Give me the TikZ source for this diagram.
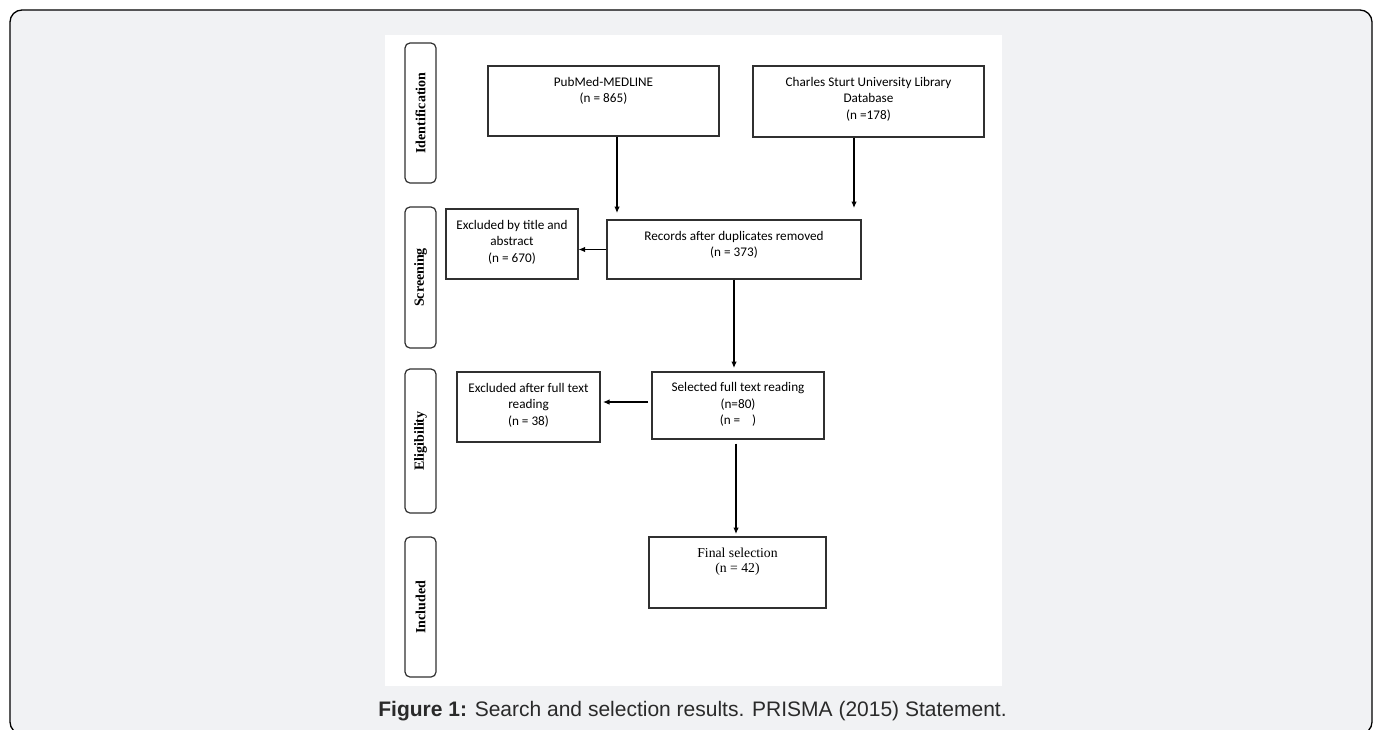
\documentclass[tikz,border=0pt]{standalone}
\usepackage{fontspec}
\setmainfont{Liberation Serif}
\newfontfamily\boxfont{Carlito}
\newfontfamily\capfont{Liberation Sans}
\usetikzlibrary{arrows.meta}
\definecolor{bggrey}{HTML}{F1F2F4}
\definecolor{linegrey}{HTML}{303030}
\definecolor{captext}{HTML}{2A2A2A}
\tikzset{
  flowbox/.style={draw=linegrey, line width=1.1pt, fill=white, rectangle, inner sep=0pt},
  stagebox/.style={draw=linegrey, line width=1.2pt, rounded corners=5pt, rectangle, inner sep=0pt, minimum width=31pt},
  stagetext/.style={rotate=90, font=\fontsize{14}{16}\selectfont\bfseries, inner sep=0pt},
  boxtext/.style={anchor=north, align=center, inner sep=0pt, font=\boxfont\fontsize{13.2}{16.5}\selectfont},
  arr/.style={draw=black, line width=1.1pt, -{Latex[length=6.5pt,width=5.5pt]}}
}
\begin{document}
\begin{tikzpicture}[x=1pt,y=-1pt]
\useasboundingbox (0,0) rectangle (1373,729);
\begin{scope}
\clip (0,0) rectangle (1373,729);
\draw[fill=bggrey, draw=black, line width=1.3pt, rounded corners=12pt] (10,10) rectangle (1372,734);
\end{scope}
\fill[white] (385,35) rectangle (1002,686);

% stage labels
\node[stagebox, minimum height=140pt] (sid) at (420.5,113) {};
\node[stagetext] (tid) at (sid.center) {Identification};
\node[stagebox, minimum height=141pt] (ssc) at (420.5,277.5) {};
\node[stagetext] (tsc) at (ssc.center) {Screening};
\node[stagebox, minimum height=144pt] (sel0) at (420.5,441) {};
\node[stagetext] (tel) at (sel0.center) {Eligibility};
\node[stagebox, minimum height=140pt] (sin) at (420.5,607) {};
\node[stagetext] (tin) at (sin.center) {Included};

% flow boxes
\node[flowbox, minimum width=231pt, minimum height=70pt] (pub) at (603.5,101) {};
\node[boxtext] (tpub) at ([yshift=-11.5pt]pub.north) {PubMed-MEDLINE\\(n = 865)};
\node[flowbox, minimum width=231pt, minimum height=71pt] (csu) at (868.5,101.5) {};
\node[boxtext] (tcsu) at ([yshift=-11.5pt]csu.north) {Charles Sturt University Library\\Database\\(n =178)};
\node[flowbox, minimum width=254pt, minimum height=59pt] (rec) at (734,249.5) {};
\node[boxtext] (trec) at ([yshift=-11.5pt]rec.north) {Records after duplicates removed\\(n = 373)};
\node[flowbox, minimum width=132pt, minimum height=70pt] (ex1) at (512,244) {};
\node[boxtext] (tex1) at ([yshift=-11.5pt]ex1.north) {Excluded by title and\\abstract\\(n = 670)};
\node[flowbox, minimum width=172pt, minimum height=67pt] (sel) at (738,405.5) {};
\node[boxtext] (tsel) at ([yshift=-11pt]sel.north) {Selected full text reading\\(n=80)\\(n =\ \ \ \ )};
\node[flowbox, minimum width=143pt, minimum height=70pt] (ex2) at (528.5,407) {};
\node[boxtext] (tex2) at ([yshift=-11.5pt]ex2.north) {Excluded after full text\\reading\\(n = 38)};
\node[flowbox, minimum width=177pt, minimum height=71pt] (fin) at (737.5,572.5) {};
\node[boxtext, font=\fontsize{13.7}{15.5}\selectfont] (tfin) at ([yshift=-11pt]fin.north) {Final selection\\(n = 42)};

% arrow end points
\coordinate (a1) at (617,213);
\coordinate (a2) at (854,208);
\coordinate (a3) at (734,368);
\coordinate (a4) at (736,534);
\coordinate (s5) at (648,402);
\coordinate (e5) at (603,402);

\draw[arr] (pub.south -| a1) -- (a1);
\draw[arr] (csu.south -| a2) -- (a2);
\draw[arr] (rec.west) -- (rec.west -| ex1.east);
\draw[arr] (rec.south -| a3) -- (a3);
\draw[arr] (s5) -- (e5);
\draw[arr] ([yshift=-4pt]sel.south -| a4) -- (a4);

% caption
\node[anchor=base, inner sep=0pt, text=captext, font=\capfont\fontsize{21}{23}\selectfont] (cap) at (692.5,716) {\textbf{Figure 1:} Search and selection results. PRISMA (2015) Statement.};
\end{tikzpicture}
\end{document}
